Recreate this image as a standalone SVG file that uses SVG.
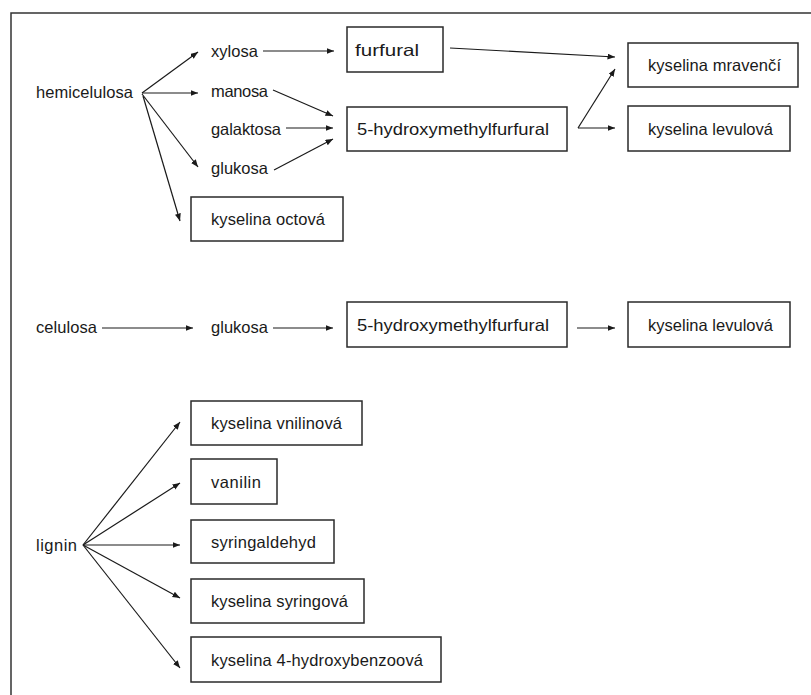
<svg xmlns="http://www.w3.org/2000/svg" width="811" height="695" viewBox="0 0 811 695">
<defs>
<marker id="ah" markerUnits="userSpaceOnUse" markerWidth="9" markerHeight="7" refX="7.5" refY="3" orient="auto">
<path d="M0,0 L7.5,3 L0,6 z" fill="#1a1a1a"/>
</marker>
<style>
.t{font-family:"Liberation Sans",Arial,sans-serif;font-size:16.5px;fill:#1a1a1a}
.b{fill:#fff;stroke:#2a2a2a;stroke-width:1.5}
.c{stroke:#1a1a1a;stroke-width:1.2;fill:none;marker-end:url(#ah)}
</style>
</defs>
<rect width="811" height="695" fill="#fff"/>
<path d="M11,695 V13 H811" fill="none" stroke="#333" stroke-width="1.5"/>

<g id="connectors">
<line class="c" x1="142" y1="93" x2="198" y2="52"/>
<line class="c" x1="142" y1="93" x2="198" y2="93"/>
<line class="c" x1="142" y1="94" x2="198" y2="167"/>
<line class="c" x1="143" y1="96" x2="180" y2="221"/>
<line class="c" x1="263" y1="51" x2="334" y2="51"/>
<line class="c" x1="273" y1="90" x2="333" y2="116"/>
<line class="c" x1="286" y1="128" x2="333" y2="128"/>
<line class="c" x1="274" y1="170" x2="333" y2="139"/>
<line class="c" x1="450" y1="48" x2="615" y2="57"/>
<line class="c" x1="578" y1="128" x2="615" y2="69"/>
<line class="c" x1="578" y1="128" x2="615" y2="128"/>
<line class="c" x1="102" y1="328" x2="193" y2="328"/>
<line class="c" x1="273" y1="328" x2="333" y2="328"/>
<line class="c" x1="577" y1="328" x2="615" y2="328"/>
<line class="c" x1="83" y1="545" x2="180" y2="422"/>
<line class="c" x1="83" y1="545" x2="180" y2="483"/>
<line class="c" x1="83" y1="545" x2="180" y2="545"/>
<line class="c" x1="83" y1="545" x2="180" y2="598"/>
<line class="c" x1="83" y1="545" x2="180" y2="668"/>
</g>

<g id="hemicelulosa"><text class="t" x="36" y="98" textLength="97">hemicelulosa</text></g>
<g id="xylosa"><text class="t" x="211" y="57" textLength="47">xylosa</text></g>
<g id="manosa"><text class="t" x="211" y="97" textLength="57">manosa</text></g>
<g id="galaktosa"><text class="t" x="211" y="135" textLength="70">galaktosa</text></g>
<g id="glukosa1"><text class="t" x="211" y="174" textLength="57">glukosa</text></g>
<g id="furfural"><rect class="b" x="347" y="27" width="96" height="45"/><text class="t" x="355" y="56" textLength="64" lengthAdjust="spacingAndGlyphs">furfural</text></g>
<g id="hmf1"><rect class="b" x="347" y="107" width="220" height="44"/><text class="t" x="357" y="135" textLength="192" lengthAdjust="spacingAndGlyphs">5-hydroxymethylfurfural</text></g>
<g id="octova"><rect class="b" x="191" y="197" width="152" height="44"/><text class="t" x="211" y="225" textLength="114">kyselina octová</text></g>
<g id="mravenci"><rect class="b" x="628" y="43" width="170" height="44"/><text class="t" x="648" y="71" textLength="133">kyselina mravenčí</text></g>
<g id="levulova1"><rect class="b" x="628" y="106" width="162" height="45"/><text class="t" x="648" y="135" textLength="125">kyselina levulová</text></g>

<g id="celulosa"><text class="t" x="36" y="333" textLength="61">celulosa</text></g>
<g id="glukosa2"><text class="t" x="211" y="333" textLength="57">glukosa</text></g>
<g id="hmf2"><rect class="b" x="347" y="302" width="220" height="45"/><text class="t" x="357" y="331" textLength="192" lengthAdjust="spacingAndGlyphs">5-hydroxymethylfurfural</text></g>
<g id="levulova2"><rect class="b" x="628" y="302" width="162" height="45"/><text class="t" x="648" y="331" textLength="125">kyselina levulová</text></g>

<g id="lignin"><text class="t" x="36" y="551" textLength="41">lignin</text></g>
<g id="vnilinova"><rect class="b" x="191" y="401" width="171" height="44"/><text class="t" x="211" y="429" textLength="131">kyselina vnilinová</text></g>
<g id="vanilin"><rect class="b" x="191" y="459" width="86" height="45"/><text class="t" x="211" y="488" textLength="50">vanilin</text></g>
<g id="syringaldehyd"><rect class="b" x="191" y="520" width="143" height="43"/><text class="t" x="211" y="548" textLength="105">syringaldehyd</text></g>
<g id="syringova"><rect class="b" x="191" y="579" width="173" height="44"/><text class="t" x="211" y="607" textLength="137">kyselina syringová</text></g>
<g id="hydroxybenzoova"><rect class="b" x="191" y="637" width="250" height="45"/><text class="t" x="211" y="666" textLength="212">kyselina 4-hydroxybenzoová</text></g>
</svg>
